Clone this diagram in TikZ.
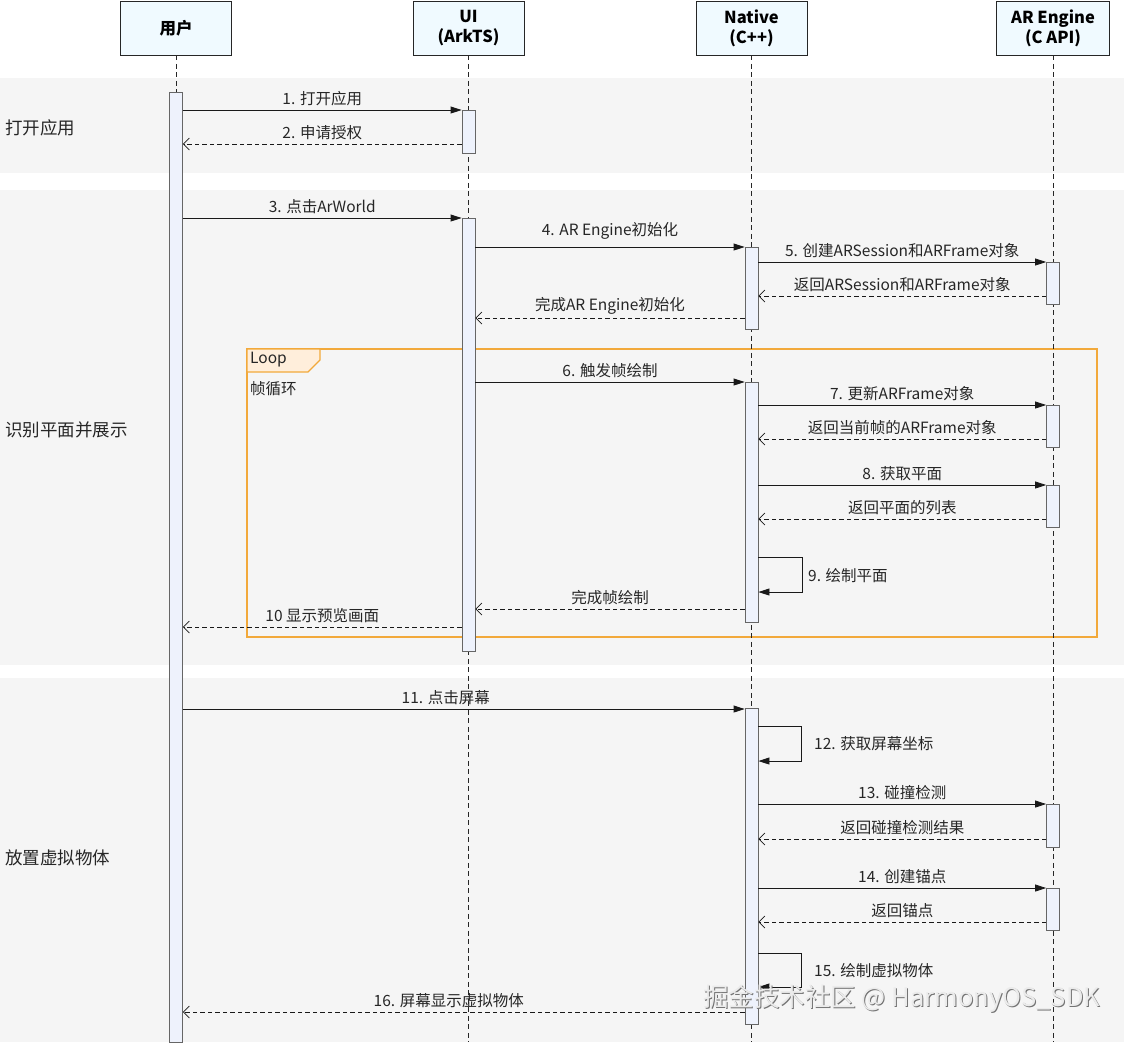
\documentclass[tikz,border=0pt]{standalone}
\usepackage{fontspec}
\setmainfont{Noto Sans CJK SC}
\usetikzlibrary{arrows.meta,calc}
\definecolor{bandc}{HTML}{F5F5F5}
\definecolor{hdrc}{HTML}{F0FAFF}
\definecolor{barc}{HTML}{EEF2FC}
\definecolor{loopc}{HTML}{F2A93B}
\definecolor{tabc}{HTML}{FFEEDB}
\tikzset{
  hdr/.style={draw=black!85, fill=hdrc, line width=0.8pt, minimum width=111pt, minimum height=54pt, align=center, font=\bfseries\fontsize{16.5}{20}\selectfont, inner sep=0pt},
  life/.style={draw=black!85, line width=0.7pt, dash pattern=on 5pt off 3.5pt},
  actbar/.style={draw=black!60, fill=barc, line width=0.8pt, minimum width=13pt, inner sep=0pt, anchor=north},
  call/.style={draw=black!90, line width=0.8pt, -{Triangle[length=11pt,width=7pt]}},
  ret/.style={draw=black!90, line width=0.7pt, dash pattern=on 4.5pt off 3pt, -{Straight Barb[length=6pt,width=12pt]}},
  lbl/.style={font=\fontsize{15.5}{18}\selectfont, text=black!85, inner sep=1pt},
  above/.append style={yshift=2.5pt},
  side/.style={font=\fontsize{17.5}{21}\selectfont, text=black!85, anchor=west, inner sep=0pt},
}
\begin{document}
\begin{tikzpicture}[x=1pt,y=-1pt]
\useasboundingbox (0,0) rectangle (1124,1042);
\fill[white] (0,0) rectangle (1124,1042);
% bands
\fill[bandc] (0,78) rectangle (1124,173);
\fill[bandc] (0,190) rectangle (1124,665);
\fill[bandc] (0,678) rectangle (1124,1042);
\node[side] (g1) at (5,128) {打开应用};
\node[side] (g2) at (5,430) {识别平面并展示};
\node[side] (g3) at (5,858) {放置虚拟物体};
% loop frame
\coordinate (loopnw) at (247,349);
\coordinate (loopse) at (1097,637);
\draw[color=loopc, line width=1.1pt] (loopnw) rectangle (loopse);
\path[fill=tabc, draw=loopc, line width=1.1pt] (loopnw) -- ++(73,0) -- ++(0,11) -- ++(-12,12) -- ++(-61,0) -- cycle;
\node[lbl, anchor=west] (looplbl) at (249,360) {Loop};
\node[lbl, anchor=west] (loopcond) at (249,389) {帧循环};
% headers
\node[hdr] (usr) at (176,28) {用户};
\node[hdr] (ui) at (468.5,28) {UI\\(ArkTS)};
\node[hdr] (nat) at (751.5,28) {Native\\(C++)};
\node[hdr, minimum width=113pt] (are) at (1053,28) {AR Engine\\(C API)};
% lifelines
\draw[life] (usr.south) -- (usr.south |- 0,1042);
\draw[life] (ui.south) -- (ui.south |- 0,1042);
\draw[life] (nat.south) -- (nat.south |- 0,1042);
\draw[life] (are.south) -- (are.south |- 0,1042);
% activation bars
\node[actbar, minimum height=950pt] (ub) at (176,92) {};
\node[actbar, minimum height=43pt] (ui1) at (468.5,110) {};
\node[actbar, minimum height=433pt] (ui2) at (468.5,218) {};
\node[actbar, minimum height=82pt] (nb1) at (751.5,247) {};
\node[actbar, minimum height=240pt] (nb2) at (751.5,382) {};
\node[actbar, minimum height=316pt] (nb3) at (751.5,708) {};
\node[actbar, minimum height=42pt] (ab1) at (1053,262) {};
\node[actbar, minimum height=42pt] (ab2) at (1053,405) {};
\node[actbar, minimum height=42pt] (ab3) at (1053,485) {};
\node[actbar, minimum height=43pt] (ab4) at (1053,804) {};
\node[actbar, minimum height=42pt] (ab5) at (1053,888) {};
% messages
\draw[call] (ub.east|-0,110) -- node[lbl, above] {1. 打开应用} (ui1.west|-0,110);
\draw[ret] (ui1.west|-0,144) -- node[lbl, above] {2. 申请授权} (ub.east|-0,144);
\draw[call] (ub.east|-0,218) -- node[lbl, above] {3. 点击ArWorld} (ui2.west|-0,218);
\draw[call] (ui2.east|-0,247) -- node[lbl, above, yshift=4pt] {4. AR Engine初始化} (nb1.west|-0,247);
\draw[call] (nb1.east|-0,262) -- node[lbl, above] {5. 创建ARSession和ARFrame对象} (ab1.west|-0,262);
\draw[ret] (ab1.west|-0,296) -- node[lbl, above] {返回ARSession和ARFrame对象} (nb1.east|-0,296);
\draw[ret] (nb1.west|-0,318) -- node[lbl, above] {完成AR Engine初始化} (ui2.east|-0,318);
\draw[call] (ui2.east|-0,382) -- node[lbl, above] {6. 触发帧绘制} (nb2.west|-0,382);
\draw[call] (nb2.east|-0,405) -- node[lbl, above] {7. 更新ARFrame对象} (ab2.west|-0,405);
\draw[ret] (ab2.west|-0,439) -- node[lbl, above] {返回当前帧的ARFrame对象} (nb2.east|-0,439);
\draw[call] (nb2.east|-0,485) -- node[lbl, above] {8. 获取平面} (ab3.west|-0,485);
\draw[ret] (ab3.west|-0,519) -- node[lbl, above] {返回平面的列表} (nb2.east|-0,519);
\draw[call] (nb2.east|-0,557) -- ++(44,0) -- ++(0,35) -- (nb2.east|-0,592);
\node[lbl, anchor=west] (m9) at (807,576) {9. 绘制平面};
\draw[ret] (nb2.west|-0,609) -- node[lbl, above] {完成帧绘制} (ui2.east|-0,609);
\draw[ret] (ui2.west|-0,627) -- node[lbl, above] {10 显示预览画面} (ub.east|-0,627);
\draw[call] (ub.east|-0,709) -- node[lbl, above, xshift=-18pt] {11. 点击屏幕} (nb3.west|-0,709);
\draw[call] (nb3.east|-0,726) -- ++(43,0) -- ++(0,35) -- (nb3.east|-0,761);
\node[lbl, anchor=west] (m12) at (813,744) {12. 获取屏幕坐标};
\draw[call] (nb3.east|-0,804) -- node[lbl, above] {13. 碰撞检测} (ab4.west|-0,804);
\draw[ret] (ab4.west|-0,839) -- node[lbl, above] {返回碰撞检测结果} (nb3.east|-0,839);
\draw[call] (nb3.east|-0,888) -- node[lbl, above] {14. 创建锚点} (ab5.west|-0,888);
\draw[ret] (ab5.west|-0,922) -- node[lbl, above] {返回锚点} (nb3.east|-0,922);
\draw[call] (nb3.east|-0,953) -- ++(43,0) -- ++(0,34) -- (nb3.east|-0,987);
\node[lbl, anchor=west] (m15) at (813,971) {15. 绘制虚拟物体};
\draw[ret] (nb3.west|-0,1012) -- node[lbl, above, xshift=-15pt] {16. 屏幕显示虚拟物体} (ub.east|-0,1012);
% watermark
\node[anchor=west, inner sep=0pt, font=\fontsize{25.5}{30}\selectfont, text=black!55] (wm0) at (704,999.5) {掘金技术社区 @ HarmonyOS\_SDK};
\node[anchor=west, inner sep=0pt, font=\fontsize{25.5}{30}\selectfont, text=white!92!black] (wm) at (703,998.5) {掘金技术社区 @ HarmonyOS\_SDK};
\end{tikzpicture}
\end{document}
